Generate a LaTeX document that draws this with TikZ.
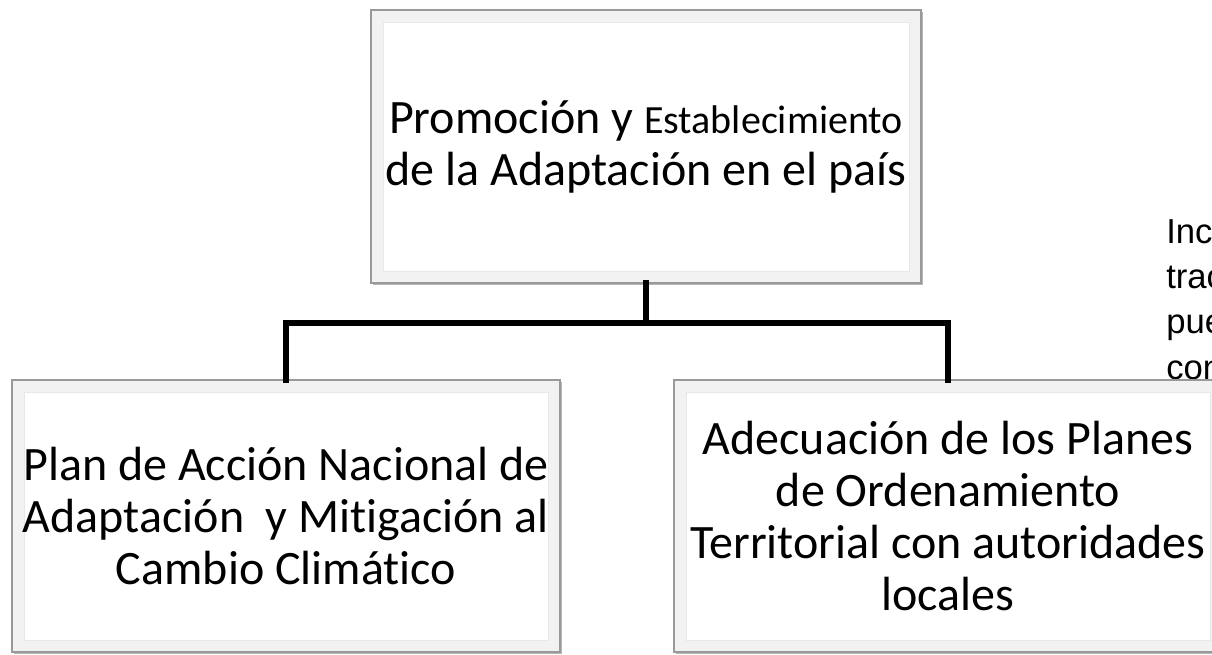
\documentclass[tikz,border=0pt]{standalone}
\usepackage{fontspec}
\setmainfont{Carlito}[Ligatures={NoCommon,NoContextual}]
\newfontfamily\arialfont{Liberation Sans}
\usetikzlibrary{shadows}
\begin{document}
\begin{tikzpicture}[x=0.75pt,y=-0.75pt,
  boxstyle/.style={draw=black!40,line width=0.9pt,fill=black!5,
    drop shadow={shadow xshift=1.6pt,shadow yshift=-1.8pt,opacity=0.4,fill=black!70},
    path picture={
      \fill[white] ([shift={(9pt,-9pt)}]path picture bounding box.north west)
        rectangle ([shift={(-9pt,9pt)}]path picture bounding box.south east);
      \draw[black!9,line width=0.6pt] ([shift={(9pt,-9pt)}]path picture bounding box.north west)
        rectangle ([shift={(-9pt,9pt)}]path picture bounding box.south east);
    },
    inner sep=0pt,outer sep=0pt,align=center,anchor=north west,
    font=\fontsize{36pt}{39pt}\selectfont},
  conn/.style={line width=3.9pt,black,line cap=rect},
  sidetxt/.style={anchor=base west,inner sep=0pt,font=\arialfont\fontsize{26pt}{30pt}\selectfont}
]
\useasboundingbox (0,0) rectangle (1212,654);
\begin{scope}
\clip (0,0) rectangle (1212,654);
% partially visible text on the right
\node[sidetxt] (t1) at (1166,243) {Inc};
\node[sidetxt] (t2) at (1166,288) {trac};
\node[sidetxt] (t3) at (1166,333) {pue};
\node[sidetxt] (t4) at (1166,379) {con};

% top box
\node[boxstyle,minimum width=550*0.75pt,minimum height=273*0.75pt] (top) at (371,10)
  {Promoción y {\fontsize{30pt}{39pt}\selectfont Establecimiento}\\de la Adaptación en el país};

% bottom boxes
\node[boxstyle,minimum width=548*0.75pt,minimum height=272*0.75pt] (left) at (12,380)
  {Plan de Acción Nacional de\\Adaptación\ \ y Mitigación al\\Cambio Climático};

\node[boxstyle,minimum width=548*0.75pt,minimum height=272*0.75pt] (right) at (674,380)
  {Adecuación de los Planes\\de Ordenamiento\\Territorial con autoridades\\locales};

% connectors
\coordinate (jt) at (top.south |- 0,323);
\coordinate (jl) at (left.north |- 0,323);
\coordinate (jr) at (right.north |- 0,323);
\draw[conn] (top.south) -- (jt);
\draw[conn] (jl) -- (jr);
\draw[conn] (jl) -- (left.north);
\draw[conn] (jr) -- (right.north);
\end{scope}
\end{tikzpicture}
\end{document}
